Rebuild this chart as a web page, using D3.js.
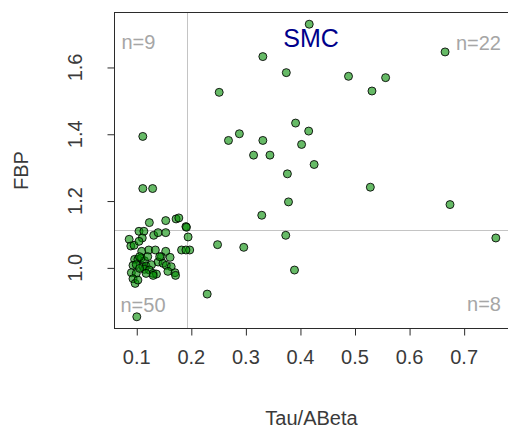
<!DOCTYPE html>
<html>
<head>
<meta charset="utf-8">
<script src="https://cdn.jsdelivr.net/npm/d3@7"></script>
<style>
  html, body { margin: 0; padding: 0; background: #fff; }
  svg { display: block; font-family: "Liberation Sans", Arial, sans-serif; }
</style>
</head>
<body>
<svg id="chart" width="508" height="438"></svg>
<script>
// Tau/ABeta ratio for each subject
const tauAbeta = [
  0.417, 0.332, 0.375, 0.666, 0.489, 0.557, 0.532, 0.252, 0.392, 0.416, 0.289,
  0.269, 0.332, 0.403, 0.315, 0.345, 0.426, 0.377, 0.529, 0.379, 0.675, 0.330,
  0.759, 0.374, 0.249, 0.297, 0.390, 0.230, 0.195, 0.198,
  0.112, 0.112, 0.130, 0.124, 0.154, 0.173, 0.178, 0.191, 0.192,
  0.087, 0.090, 0.096, 0.105, 0.114, 0.111, 0.105, 0.132, 0.140, 0.154,
  0.183, 0.191, 0.110, 0.123, 0.135, 0.154, 0.146, 0.162, 0.097, 0.103,
  0.109, 0.115, 0.094, 0.100, 0.112, 0.118, 0.128, 0.140, 0.149, 0.155,
  0.164, 0.091, 0.100, 0.115, 0.124, 0.131, 0.137, 0.158, 0.171, 0.172,
  0.094, 0.098, 0.103, 0.131, 0.106, 0.121, 0.143, 0.101, 0.118, 0.106
];
// FBP value for the same subjects
const fbp = [
  1.728, 1.631, 1.583, 1.645, 1.572, 1.568, 1.528, 1.524, 1.432, 1.408, 1.400,
  1.380, 1.380, 1.368, 1.336, 1.336, 1.308, 1.280, 1.240, 1.196, 1.188, 1.156,
  1.088, 1.096, 1.068, 1.060, 0.992, 0.920, 1.091, 1.052,
  1.392, 1.236, 1.236, 1.134, 1.140, 1.145, 1.148, 1.122, 1.120,
  1.084, 1.064, 1.066, 1.108, 1.108, 1.088, 1.078, 1.096, 1.104, 1.104,
  1.052, 1.052, 1.048, 1.052, 1.052, 1.048, 1.032, 1.030, 1.024, 1.024,
  1.028, 1.020, 1.006, 1.008, 1.002, 1.004, 1.008, 1.016, 1.012, 1.006,
  1.002, 0.984, 0.982, 0.994, 0.992, 0.982, 0.980, 0.988, 0.984, 0.976,
  0.966, 0.952, 0.962, 0.976, 1.032, 1.032, 1.032, 0.852, 0.982, 0.997
];

// Cut-offs splitting the plane into quadrants
const cutTau = [0.193];
const cutFbp = [1.112];

// Quadrant counts, corner labels and title
const quadrantLabels = ["n=9", "n=22", "n=50", "n=8"];
const title = ["SMC"];

// Axis ticks
const xTicks = [0.1, 0.2, 0.3, 0.4, 0.5, 0.6, 0.7];
const yTicks = [1.0, 1.2, 1.4, 1.6];
const axisTitles = ["Tau/ABeta", "FBP"];

const svg = d3.select("#chart");
const plot = { left: 114.5, right: 510.5, top: 12.5, bottom: 328.5 };

// R-style 4% padding around the data range
function padded(values) {
  const [lo, hi] = d3.extent(values);
  const p = (hi - lo) * 0.04;
  return [lo - p, hi + p];
}

const x = d3.scaleLinear().domain(padded(tauAbeta)).range([plot.left, plot.right]);
const y = d3.scaleLinear().domain(padded(fbp)).range([plot.bottom, plot.top]);

// Quadrant divider lines
svg.append("line")
  .attr("x1", Math.round(x(cutTau[0])) + 0.5).attr("x2", Math.round(x(cutTau[0])) + 0.5)
  .attr("y1", plot.top).attr("y2", plot.bottom)
  .attr("stroke", "#c4c4c4").attr("stroke-width", 1);
svg.append("line")
  .attr("x1", plot.left).attr("x2", plot.right)
  .attr("y1", Math.round(y(cutFbp[0])) + 0.5).attr("y2", Math.round(y(cutFbp[0])) + 0.5)
  .attr("stroke", "#c4c4c4").attr("stroke-width", 1);

// Plot frame
svg.append("rect")
  .attr("x", plot.left).attr("y", plot.top)
  .attr("width", plot.right - plot.left).attr("height", plot.bottom - plot.top)
  .attr("fill", "none").attr("stroke", "#2b2b2b").attr("stroke-width", 1);

// Bottom axis
const xAxis = svg.append("g")
  .attr("transform", `translate(0,${plot.bottom})`)
  .call(d3.axisBottom(x).tickValues(xTicks).tickSize(7).tickPadding(14)
    .tickFormat(d3.format(".1f")));
xAxis.select(".domain").remove();
xAxis.selectAll("line").attr("stroke", "#2b2b2b").attr("transform", "translate(0.5,0)");
xAxis.selectAll("text").attr("font-size", 20).attr("fill", "#3a3a3a")
  .attr("font-family", "Liberation Sans, Arial, sans-serif");

// Left axis, labels rotated parallel to the axis
const yAxis = svg.append("g")
  .attr("transform", `translate(${plot.left},0)`)
  .call(d3.axisLeft(y).tickValues(yTicks).tickSize(7).tickFormat(d3.format(".1f")));
yAxis.select(".domain").remove();
yAxis.selectAll("line").attr("stroke", "#2b2b2b").attr("transform", "translate(0,0.5)");
yAxis.selectAll("text")
  .attr("x", 0).attr("dy", null)
  .attr("transform", "translate(-40,0) rotate(-90)")
  .attr("text-anchor", "middle").attr("dominant-baseline", "central")
  .attr("font-size", 20).attr("fill", "#3a3a3a")
  .attr("font-family", "Liberation Sans, Arial, sans-serif");

// Axis titles
svg.append("text")
  .attr("x", (plot.left + plot.right) / 2 - 1).attr("y", 425)
  .attr("text-anchor", "middle").attr("font-size", 20).attr("fill", "#3a3a3a")
  .text(axisTitles[0]);
svg.append("text")
  .attr("transform", `translate(28,${(plot.top + plot.bottom) / 2}) rotate(-90)`)
  .attr("text-anchor", "middle").attr("font-size", 20).attr("fill", "#3a3a3a")
  .text(axisTitles[1]);

// Scatter points
svg.append("g").selectAll("circle")
  .data(d3.range(tauAbeta.length))
  .join("circle")
  .attr("cx", i => x(tauAbeta[i]))
  .attr("cy", i => y(fbp[i]))
  .attr("r", 4)
  .attr("fill", "rgba(0,140,0,0.6)")
  .attr("stroke", "rgba(0,0,0,0.85)")
  .attr("stroke-width", 1);

// Quadrant counts in the corners
const corner = [
  { t: quadrantLabels[0], x: plot.left + 7, y: 49, a: "start" },
  { t: quadrantLabels[1], x: 501, y: 50, a: "end" },
  { t: quadrantLabels[2], x: plot.left + 6, y: 312, a: "start" },
  { t: quadrantLabels[3], x: 501, y: 311, a: "end" }
];
svg.append("g").selectAll("text")
  .data(corner)
  .join("text")
  .attr("x", d => d.x).attr("y", d => d.y)
  .attr("text-anchor", d => d.a)
  .attr("font-size", 20).attr("fill", "#a6a6a6")
  .text(d => d.t);

// Panel title
svg.append("text")
  .attr("x", 311).attr("y", 47)
  .attr("text-anchor", "middle").attr("font-size", 25).attr("fill", "#00008b")
  .text(title[0]);
</script>
</body>
</html>
